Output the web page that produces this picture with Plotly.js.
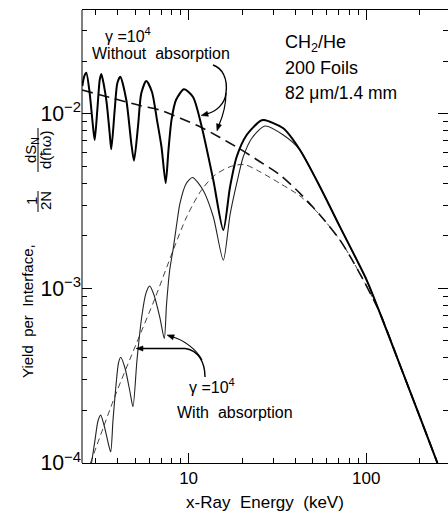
<!DOCTYPE html>
<html>
<head>
<meta charset="utf-8">
<script src="https://cdn.plot.ly/plotly-3.0.1.min.js"></script>
<style>
html,body{margin:0;padding:0;overflow:hidden;background:#fff;}
#chart{width:448px;height:516px;}
</style>
</head>
<body>
<div id="chart"></div>
<script>
// ---- data (x-ray energy in keV, yield per interface) ----
// gamma = 1e4, without absorption (thick solid)
const noAbsE = [2.522,2.588,2.656,2.775,2.897,2.961,3.063,3.160,3.226,3.442,3.596,3.672,3.837,3.969,4.126,4.460,4.758,4.928,5.189,5.416,5.778,6.222,6.639,7.038,7.430,7.705,8.011,8.492,9.419,10.59,11.85,13.77,15.68,17.10,18.65,21.22,25.22,26.57,34.11,42.36,54.86,71.12,100.5,119.4,154.7,200.5,251.5];
const noAbsY = [0.01441,0.01644,0.01717,0.01309,0.00843,0.00707,0.01050,0.01560,0.01688,0.01198,0.00772,0.00626,0.01050,0.01493,0.01629,0.01198,0.00677,0.00538,0.00843,0.01309,0.01540,0.01332,0.00920,0.00645,0.00401,0.00620,0.00920,0.01198,0.01380,0.01247,0.00843,0.00417,0.00216,0.00380,0.00567,0.00755,0.00908,0.00920,0.00825,0.00620,0.00382,0.00225,0.001116,0.000722,0.000364,0.000183,0.000100];
// gamma = 1e4, with absorption (thin solid)
const absE = [2.841,2.973,3.090,3.200,3.341,3.518,3.643,3.754,3.902,4.031,4.147,4.385,4.679,4.864,5.123,5.466,5.756,6.039,6.386,6.902,7.297,7.508,7.826,8.200,8.604,8.946,9.667,10.52,12.05,13.77,15.68,17.10,18.65,20.31,22.73,26.90,34.11,42.36,54.86,71.12,100.5,119.4,154.7,200.5,251.5];
const absY = [0.000100,0.0001353,0.000174,0.000188,0.000165,0.0001318,0.0001159,0.000176,0.000279,0.000374,0.000403,0.000350,0.000255,0.000210,0.000389,0.000704,0.000940,0.001031,0.000916,0.000676,0.000516,0.000802,0.00127,0.00170,0.00240,0.00308,0.00396,0.00431,0.00366,0.00257,0.00145,0.00263,0.00399,0.00567,0.00726,0.00850,0.00755,0.00620,0.00382,0.00225,0.001116,0.000722,0.000364,0.000183,0.000100];
// averaged (non-interfering) curves: without absorption (thick dashed)
const avgNoAbsE = [2.512,3.611,5.326,6.902,9.062,11.59,15.02,19.46,25.22,32.68,42.36,54.86,71.12,80.94,98.31,119.4,154.7,200.5,251.5];
const avgNoAbsY = [0.01367,0.01239,0.01114,0.01050,0.00939,0.00843,0.00731,0.00628,0.00531,0.00446,0.00350,0.00263,0.00189,0.00153,0.001072,0.000722,0.000364,0.000183,0.000100];
// with absorption (thin dashed)
const avgAbsE = [2.804,3.837,5.123,6.469,8.200,9.754,11.82,14.08,17.10,20.50,25.22,32.68,42.36,54.86,71.12,80.94,98.31,119.4,154.7,200.5,251.5];
const avgAbsY = [0.000100,0.000239,0.000493,0.000877,0.00166,0.00257,0.00366,0.00446,0.00497,0.00512,0.00465,0.00399,0.00338,0.00263,0.00189,0.00153,0.001072,0.000722,0.000364,0.000183,0.000100];

// axis ranges (log10 of keV, log10 of yield)
const xRangeLog = [0.4, 2.46];
const yRangeLog = [-4, -1.406];

// ---- layout helpers (page geometry) ----
const W = 448, H = 516, L = 82, T = 10, B = 53;
function px(x){ return (x - L) / (W - L); }
function py(y){ return (H - B - y) / (H - B - T); }
const FONT = 'Liberation Sans, Arial, sans-serif';

const base = {mode:'lines', hoverinfo:'skip', showlegend:false};
const traces = [
  Object.assign({x:avgAbsE, y:avgAbsY, line:{color:'#444', width:1, dash:'6px,4px', shape:'spline', smoothing:0.8}}, base),
  Object.assign({x:avgNoAbsE, y:avgNoAbsY, line:{color:'#111', width:1.6, dash:'11px,6px', shape:'spline', smoothing:0.8}}, base),
  Object.assign({x:absE, y:absY, line:{color:'#222', width:1.1, shape:'spline', smoothing:0.7}}, base),
  Object.assign({x:noAbsE, y:noAbsY, line:{color:'#000', width:2, shape:'spline', smoothing:0.7}}, base)
];

function txt(text, x, y, size, opts){
  return Object.assign({text:text, xref:'paper', yref:'paper', x:px(x), y:py(y), showarrow:false,
    font:{family:FONT, size:size, color:'#000'}, xanchor:'center', yanchor:'middle'}, opts||{});
}
function P(x,y){ return px(x).toFixed(4)+','+py(y).toFixed(4); }
// filled arrow head: tip (x,y), pointing along direction (dx,dy) in page pixels
function headShape(x, y, dx, dy){
  const n = Math.hypot(dx,dy), ux = dx/n, uy = dy/n, len = 7, hw = 2.6;
  const bx = x - ux*len, by = y - uy*len;
  return {type:'path', xref:'paper', yref:'paper', fillcolor:'#000', line:{color:'#000', width:0.5},
    path:'M'+P(x,y)+' L'+P(bx - uy*hw, by + ux*hw)+' L'+P(bx + uy*hw, by - ux*hw)+' Z'};
}

const annotations = [
  txt('γ =10<sup>4</sup>', 128, 35, 16),
  txt('Without  absorption', 161, 53, 16),
  txt('CH<sub>2</sub>/He', 283, 43, 18, {xanchor:'left'}),
  txt('200 Foils', 283, 68, 18, {xanchor:'left'}),
  txt('82 μm/1.4 mm', 283, 93, 17.5, {xanchor:'left'}),
  txt('γ =10<sup>4</sup>', 212, 386, 16),
  txt('With  absorption', 235, 412, 16),
  // y axis title pieces
  txt('Yield  per  Interface,', 27, 311, 15, {textangle:-90}),
  txt('1', 31, 201, 15, {textangle:-90}),
  txt('2N', 45, 201, 15, {textangle:-90}),
  txt('dS<sub>N</sub>', 31, 150, 15, {textangle:-90}),
  txt('d(ħω)', 45, 150, 15, {textangle:-90})
];

const shapes = [
  // left frame line (the right edge of the frame lies outside the picture)
  {type:'line', xref:'paper', yref:'paper', x0:0, x1:0, y0:0, y1:1, line:{color:'#000', width:1}},
  {type:'path', xref:'paper', yref:'paper', line:{color:'#000', width:1.4},
   path:'M'+P(213,65)+' C'+P(222,68)+' '+P(228,78)+' '+P(226,93)+' C'+P(225,104)+' '+P(216,112)+' '+P(206,114)},
  {type:'path', xref:'paper', yref:'paper', line:{color:'#000', width:1.2},
   path:'M'+P(226,93)+' C'+P(226,108)+' '+P(222,118)+' '+P(219,125)},
  {type:'path', xref:'paper', yref:'paper', line:{color:'#000', width:1.4},
   path:'M'+P(205,377)+' C'+P(205,362)+' '+P(198,350)+' '+P(185,348.5)+' L'+P(142,348.5)},
  {type:'path', xref:'paper', yref:'paper', line:{color:'#000', width:1.1},
   path:'M'+P(202,360)+' C'+P(197,350)+' '+P(184,340)+' '+P(173,337)},
  headShape(201, 115.5, -1, 0.25),
  headShape(217, 131, -0.3, 1),
  headShape(136, 348.5, -1, 0),
  headShape(167, 335, -1, -0.35),
  // fraction bars in the y title
  {type:'line', xref:'paper', yref:'paper', x0:px(38), x1:px(38), y0:py(191), y1:py(212), line:{color:'#000', width:1}},
  {type:'line', xref:'paper', yref:'paper', x0:px(38), x1:px(38), y0:py(128), y1:py(172), line:{color:'#000', width:1}}
];

const minorTicks = {dtick:'D1', ticks:'inside', ticklen:5, tickcolor:'#000', tickwidth:1, showgrid:false};
const axisCommon = {
  type:'log', linecolor:'#000', linewidth:1, mirror:'allticks',
  ticks:'inside', ticklen:10, tickwidth:1, tickcolor:'#000', showgrid:false, zeroline:false,
  tickfont:{family:FONT, size:17, color:'#000'}, tickmode:'linear', tick0:0, dtick:1,
  minor:minorTicks
};

const layout = {
  width:W, height:H, margin:{l:L, r:0, t:T, b:B, pad:0},
  paper_bgcolor:'#fff', plot_bgcolor:'#fff',
  font:{family:FONT, color:'#000'},
  xaxis:Object.assign({}, axisCommon, {
    range:xRangeLog, showline:true, exponentformat:'none',
    title:{text:'x-Ray  Energy  (keV)', font:{family:FONT, size:17, color:'#000'}, standoff:8}
  }),
  yaxis:Object.assign({}, axisCommon, {
    range:yRangeLog, showline:false, exponentformat:'power', showexponent:'all'
  }),
  annotations:annotations, shapes:shapes
};

Plotly.newPlot('chart', traces, layout, {staticPlot:true, displayModeBar:false});
</script>
</body>
</html>
